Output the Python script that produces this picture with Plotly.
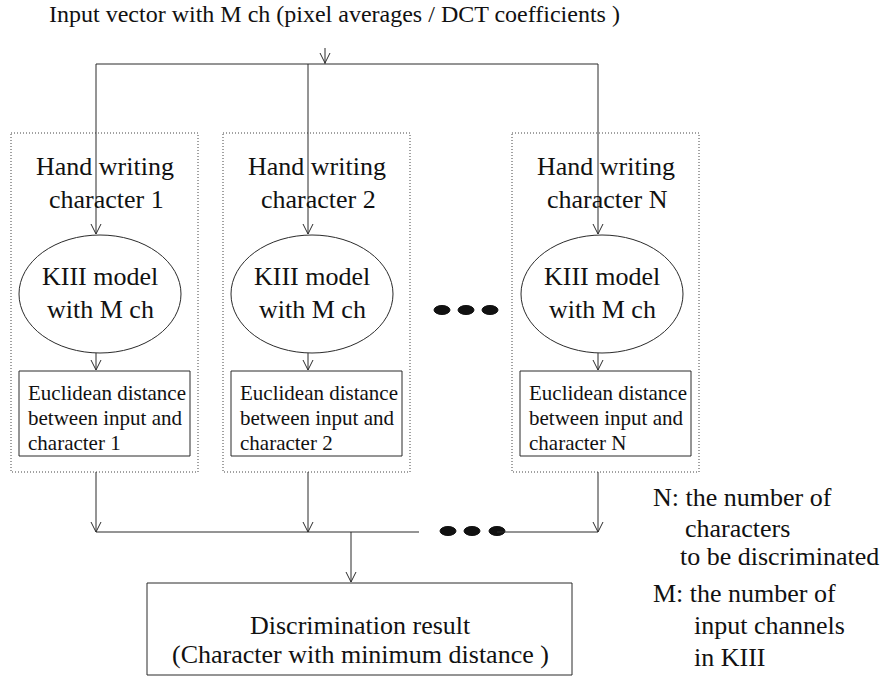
import plotly.graph_objects as go

W, H = 891, 677

TITLE = "Input vector with M ch (pixel averages / DCT coefficients )"
COLUMN_IDS = ["1", "2", "N"]
HEADER_LINES = ["Hand writing", "character {}"]
MODEL_LINES = ["KIII model", "with M ch"]
DIST_LINES = ["Euclidean distance", "between input and", "character {}"]
RESULT_LINES = ["Discrimination result", "(Character with minimum distance )"]
NOTE_LINES = [
    "N: the number of",
    "characters",
    "to be discriminated",
    "M: the number of",
    "input channels",
    "in KIII",
]

# geometry (pixel space, y down)
ARROW_X = [96, 308, 598]
BOX_X0 = [11, 223, 512]
BOX_W = 187
ELL_CX = [100, 312, 602]
NOTE_POS = [(651, 497), (683, 528), (678, 556), (651, 593), (692, 625), (692, 657)]

FONT = "Liberation Serif, Times New Roman, serif"
LINE = dict(color="#2b2b2b", width=1)

shapes = []
annotations = []


def seg(x0, y0, x1, y1, line=LINE):
    shapes.append(dict(type="line", x0=x0, y0=y0, x1=x1, y1=y1, line=line))


def head(x, y):
    shapes.append(dict(type="path", path=f"M {x-5},{y-10} L {x},{y} L {x+5},{y-10}", line=LINE))


def text(x, y, s, size, anchor="center"):
    annotations.append(dict(x=x, y=y, text=s, showarrow=False, xanchor=anchor, yanchor="middle",
                            font=dict(family=FONT, size=size, color="#111")))


def dots(xs, y):
    for x in xs:
        shapes.append(dict(type="circle", x0=x - 8, x1=x + 8, y0=y - 4.5, y1=y + 4.5,
                           fillcolor="#111", line=dict(color="#111", width=1)))


text(334, 14, TITLE, 24)

# input bus
seg(325, 48, 325, 64)
head(325, 63)
seg(ARROW_X[0], 64, ARROW_X[-1], 64)

for i, cid in enumerate(COLUMN_IDS):
    ax, bx0, cx = ARROW_X[i], BOX_X0[i], ELL_CX[i]
    # dotted container
    shapes.append(dict(type="rect", x0=bx0, x1=bx0 + BOX_W, y0=133, y1=472,
                       line=dict(color="#444", width=1, dash="1px,2px")))
    text(bx0 + 94, 166, HEADER_LINES[0], 26)
    text(bx0 + 95, 199, HEADER_LINES[1].format(cid), 26)
    # arrow into model
    seg(ax, 64, ax, 234)
    head(ax, 234)
    shapes.append(dict(type="circle", x0=cx - 81, x1=cx + 81, y0=235, y1=353, line=LINE))
    text(cx, 276, MODEL_LINES[0], 26)
    text(cx, 309, MODEL_LINES[1], 26)
    # to distance box
    seg(ax, 353, ax, 370)
    head(ax, 370)
    shapes.append(dict(type="rect", x0=bx0 + 8, x1=bx0 + BOX_W - 8, y0=371, y1=456, line=LINE))
    for k, s in enumerate(DIST_LINES):
        text(bx0 + 15, 393 + 25 * k, s.format(cid), 21, anchor="left")
    # down to output bus
    seg(ax, 472, ax, 532)
    head(ax, 532)

dots([442, 466, 490], 310)

# output bus
seg(ARROW_X[0], 532, 419, 532)
dots([448, 472, 497], 531)
seg(497, 532, ARROW_X[-1], 532)
seg(351, 532, 351, 582)
head(351, 582)
shapes.append(dict(type="rect", x0=147, x1=572, y0=583, y1=675, line=LINE))
text(360, 625, RESULT_LINES[0], 26)
text(360, 654, RESULT_LINES[1], 26)

for (x, y), s in zip(NOTE_POS, NOTE_LINES):
    text(x, y, s, 26, anchor="left")

fig = go.Figure()
fig.update_layout(
    width=W, height=H,
    margin=dict(l=0, r=0, t=0, b=0),
    paper_bgcolor="white", plot_bgcolor="white",
    xaxis=dict(range=[0, W], visible=False, fixedrange=True),
    yaxis=dict(range=[H, 0], visible=False, fixedrange=True),
    shapes=shapes,
    annotations=annotations,
    showlegend=False,
)
fig.write_html(
    "out.html",
    config={"displayModeBar": False},
    post_script="document.body.style.margin='0';document.body.style.overflow='hidden';",
)
